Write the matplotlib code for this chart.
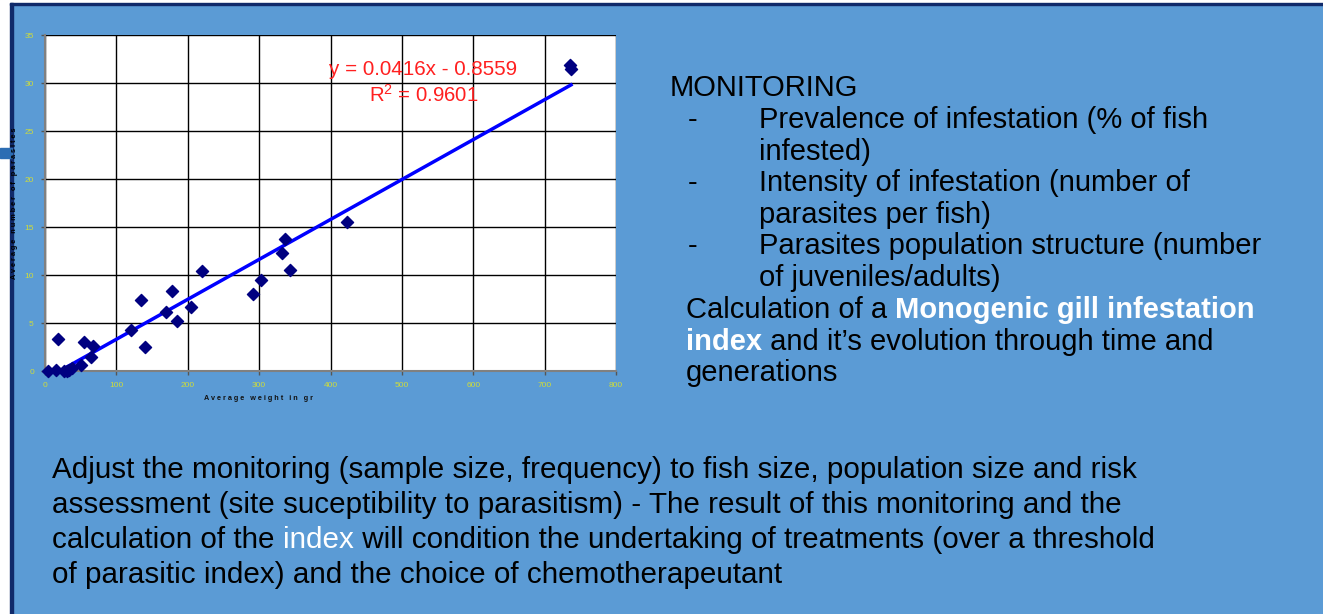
import matplotlib
matplotlib.use('Agg')
import matplotlib.pyplot as plt
from matplotlib.patches import Rectangle

W, H = 1323, 614

# scatter: average weight (gr) vs average number of parasites
weight = [4, 15, 18, 27, 31, 34, 38, 51, 54, 64, 67, 120, 135, 140,
          169, 178, 185, 204, 220, 292, 303, 332, 336, 343, 423, 735, 737]
parasites = [0.0, 0.1, 3.3, 0.0, 0.0, 0.1, 0.3, 0.6, 3.0, 1.5, 2.6, 4.3, 7.4, 2.5,
             6.1, 8.3, 5.2, 6.7, 10.4, 8.0, 9.5, 12.3, 13.7, 10.5, 15.5, 31.9, 31.5]
slope, intercept, r2 = 0.0416, -0.8559, 0.9601

x_ticks = [0, 100, 200, 300, 400, 500, 600, 700, 800]
y_ticks = [0, 5, 10, 15, 20, 25, 30, 35]

monitoring_items = [
    ["Prevalence of infestation (% of fish", "infested)"],
    ["Intensity of infestation (number of", "parasites per fish)"],
    ["Parasites population structure (number", "of juveniles/adults)"],
]

BG = '#5b9bd5'
FONT = 'Liberation Sans'
plt.rcParams['font.family'] = FONT
plt.rcParams['mathtext.fontset'] = 'custom'
plt.rcParams['mathtext.rm'] = FONT

fig = plt.figure(figsize=(W / 100, H / 100), dpi=100)
fig.patch.set_facecolor(BG)

def px(x, y):
    return x / W, 1 - y / H

# slide frame: white margin + dark border
fig.patches.append(Rectangle((0, 0), 10 / W, 1, transform=fig.transFigure, color='white'))
fig.patches.append(Rectangle((0, 1 - 3 / H), 1, 3 / H, transform=fig.transFigure, color='white'))
fig.patches.append(Rectangle((10 / W, 0), 3 / W, 1 - 3 / H, transform=fig.transFigure, color='#102a6a'))
fig.patches.append(Rectangle((10 / W, 1 - 5 / H), 1, 2 / H, transform=fig.transFigure, color='#102a6a'))
fig.patches.append(Rectangle((0, 1 - 158 / H), 12 / W, 10 / H, transform=fig.transFigure, color='#2c6db3'))

# chart
ax = fig.add_axes([45 / W, (H - 371) / H, 571 / W, 336 / H])
ax.set_facecolor('white')
ax.set_xlim(0, 800)
ax.set_ylim(0, 35)
ax.set_xticks(x_ticks)
ax.set_yticks(y_ticks)
ax.grid(True, color='black', lw=1)
ax.set_axisbelow(True)
for s in ['top', 'right']:
    ax.spines[s].set_visible(False)
for s in ['left', 'bottom']:
    ax.spines[s].set_color('#808080')
    ax.spines[s].set_linewidth(1.5)
ax.tick_params(colors='#cfdc3a', labelsize=6, length=3, width=1, pad=5)
ax.tick_params(axis='both', color='#555555')

ax.plot([min(weight), max(weight)],
        [slope * min(weight) + intercept, slope * max(weight) + intercept],
        color='#0000ff', lw=2.5, zorder=2)
ax.scatter(weight, parasites, marker='D', s=38, color='#000080', zorder=3, clip_on=False)

fig.text(*px(423, 75), 'y = 0.0416x - 0.8559', color='#ff2020', fontsize=14.9,
         ha='center', va='baseline')
fig.text(*px(424, 102), r'R$^2$ = 0.9601', color='#ff2020', fontsize=14.6,
         ha='center', va='baseline')

fig.text(*px(259, 400), 'A v e r a g e   w e i g h t   i n   g r', fontsize=5.2,
         fontweight='bold', color='#111111', ha='center', va='baseline')
fig.text(*px(15, 203), 'A v e r a g e   n u m b e r   o f   p a r a s i t e s',
         fontsize=5.2, fontweight='bold', color='black', rotation=90,
         ha='center', va='center')

# text blocks
renderer = fig.canvas.get_renderer()

def text_width(s, size, weight):
    a = fig.text(0, 0, s + '|', fontsize=size, fontweight=weight)
    b = fig.text(0, 0, '|', fontsize=size, fontweight=weight)
    w = a.get_window_extent(renderer).width - b.get_window_extent(renderer).width
    a.remove()
    b.remove()
    return w

def put_line(x, y, pieces, size):
    for s, c, w in pieces:
        fig.text(*px(x, y), s, color=c, fontsize=size, fontweight=w,
                 ha='left', va='baseline')
        x += text_width(s, size, w)

TXT = '#000000'
SIZE_R = 21.0
SIZE_B = 21.3
fig.text(*px(670, 96), 'MONITORING', fontsize=SIZE_R, color=TXT, va='baseline')
base = 128
for item in monitoring_items:
    fig.text(*px(688, base), '-', fontsize=SIZE_R, color=TXT, va='baseline')
    for ln in item:
        fig.text(*px(759, base), ln, fontsize=SIZE_R, color=TXT, va='baseline')
        base += 31.5

put_line(686, 318, [('Calculation of a ', TXT, 'normal'),
                    ('Monogenic gill infestation', 'white', 'bold')], SIZE_R)
put_line(686, 350, [('index', 'white', 'bold'),
                    (' and it\u2019s evolution through time and', TXT, 'normal')], SIZE_R)
put_line(686, 381, [('generations', TXT, 'normal')], SIZE_R)

put_line(52, 478, [('Adjust the monitoring (sample size, frequency) to fish size, '
                    'population size and risk', TXT, 'normal')], SIZE_B)
put_line(52, 513, [('assessment (site suceptibility to parasitism) - The result of '
                    'this monitoring and the', TXT, 'normal')], SIZE_B)
put_line(52, 548, [('calculation of the ', TXT, 'normal'), ('index', 'white', 'normal'),
                   (' will condition the undertaking of treatments (over a threshold',
                    TXT, 'normal')], SIZE_B)
put_line(52, 583, [('of parasitic index) and the choice of chemotherapeutant',
                    TXT, 'normal')], SIZE_B)

fig.savefig('out.png', dpi=100, facecolor=fig.get_facecolor())
